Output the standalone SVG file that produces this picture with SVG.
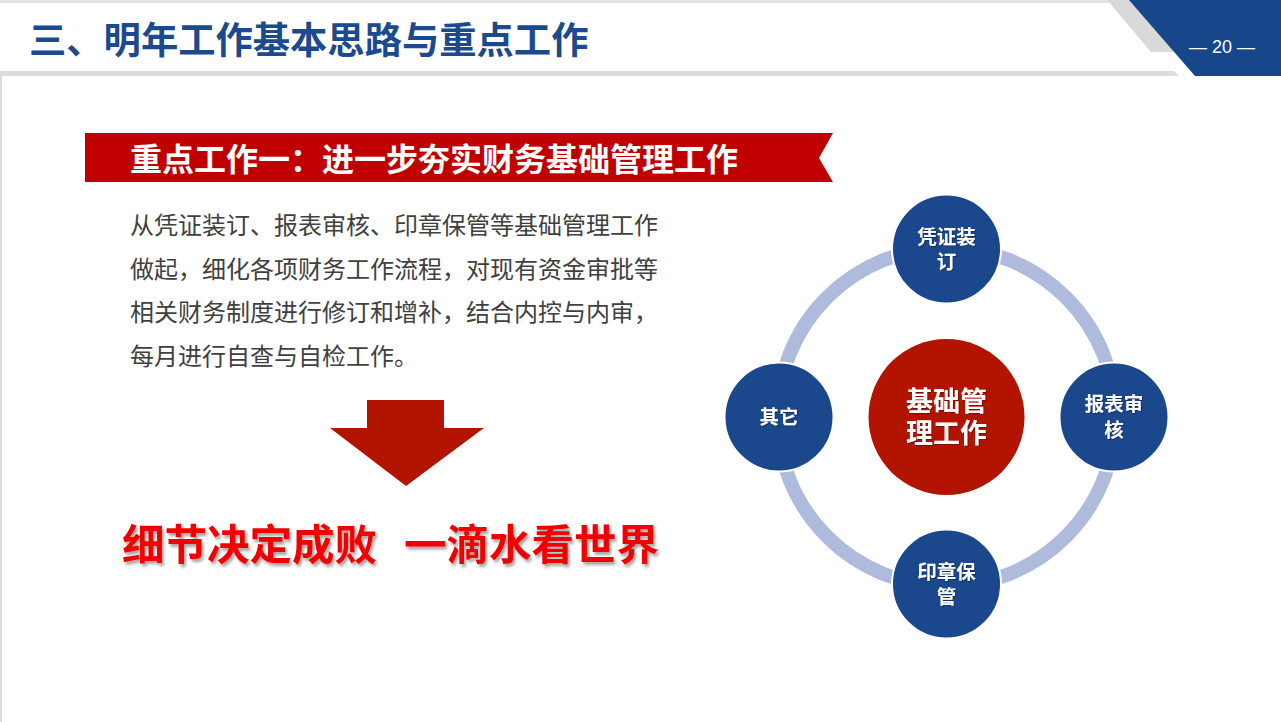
<svg xmlns="http://www.w3.org/2000/svg" width="1281" height="722" viewBox="0 0 1281 722">
<defs>
<style>
.cjk{font-family:"Noto Sans CJK SC","Liberation Sans",sans-serif;}
.title{font-size:37.3px;font-weight:700;fill:#1b4a8f;}
.banner{font-size:32px;font-weight:700;fill:#ffffff;}
.para{font-size:24px;fill:#404040;}
.motto{font-size:42.5px;font-weight:700;fill:#f20000;}
.node{fill:#1b478c;stroke:#ffffff;stroke-width:2;}
.ntext{font-size:19.5px;font-weight:700;fill:#ffffff;text-anchor:middle;}
.ctext{font-size:27px;font-weight:700;fill:#ffffff;text-anchor:middle;}
</style>
<filter id="shadow" x="-5%" y="-20%" width="110%" height="150%">
<feDropShadow dx="2" dy="3" stdDeviation="1.5" flood-color="#000000" flood-opacity="0.35"/>
</filter>
<filter id="tshadow" x="-10%" y="-20%" width="120%" height="150%">
<feDropShadow dx="1" dy="1" stdDeviation="0.6" flood-color="#000000" flood-opacity="0.35"/>
</filter>
</defs>
<rect x="0" y="0" width="1281" height="722" fill="#ffffff"/>
<g id="header">
<rect x="0" y="0" width="1281" height="3" fill="#e3e3e3"/>
<polygon points="0,71 1174,71 1179,76 0,76" fill="#dcdcdc"/>
<rect x="0" y="76" width="2" height="646" fill="#dcdcdc"/>
<polygon points="1107,0 1135,0 1175,52 1151,52" fill="#d9d9d9"/>
<polygon points="1129,0 1281,0 1281,76 1195,76" fill="#17468b"/>
<text x="1222" y="53" font-family="Liberation Sans, sans-serif" font-size="18" fill="#ffffff" text-anchor="middle">— 20 —</text>
<text x="29" y="54" class="cjk title">三、明年工作基本思路与重点工作</text>
</g>
<g id="banner">
<polygon points="85,133 833,133 819,158 833,182 85,182" fill="#c00000"/>
<text x="130" y="171" class="cjk banner">重点工作一：进一步夯实财务基础管理工作</text>
</g>
<g id="paragraph" class="cjk para">
<text x="130" y="234">从凭证装订、报表审核、印章保管等基础管理工作</text>
<text x="130" y="278">做起，细化各项财务工作流程，对现有资金审批等</text>
<text x="130" y="321">相关财务制度进行修订和增补，结合内控与内审，</text>
<text x="130" y="365">每月进行自查与自检工作。</text>
</g>
<g id="arrow">
<polygon points="367,400 444,400 444,428 484,428 406,486 330,428 367,428" fill="#b31400"/>
</g>
<g id="motto" filter="url(#shadow)">
<text x="122" y="560" class="cjk motto">细节决定成败</text>
<text x="404" y="560" class="cjk motto">一滴水看世界</text>
</g>
<g id="connectors">
<circle cx="946.5" cy="417" r="169" fill="none" stroke="#aebbdd" stroke-width="14"/>
</g>
<g id="center">
<circle cx="946.5" cy="417" r="78" fill="#b31400"/>
<text class="cjk ctext" filter="url(#tshadow)"><tspan x="946.5" y="411">基础管</tspan><tspan x="946.5" y="443">理工作</tspan></text>
</g>
<g id="node-top">
<circle cx="946.5" cy="249" r="54.5" class="node"/>
<text class="cjk ntext" filter="url(#tshadow)"><tspan x="946.5" y="244">凭证装</tspan><tspan x="946.5" y="269">订</tspan></text>
</g>
<g id="node-right">
<circle cx="1114" cy="417" r="54.5" class="node"/>
<text class="cjk ntext" filter="url(#tshadow)"><tspan x="1114" y="411">报表审</tspan><tspan x="1114" y="437">核</tspan></text>
</g>
<g id="node-bottom">
<circle cx="946.5" cy="584" r="54.5" class="node"/>
<text class="cjk ntext" filter="url(#tshadow)"><tspan x="946.5" y="579">印章保</tspan><tspan x="946.5" y="604">管</tspan></text>
</g>
<g id="node-left">
<circle cx="779" cy="417" r="54.5" class="node"/>
<text x="779" y="424" class="cjk ntext" filter="url(#tshadow)">其它</text>
</g>
</svg>
